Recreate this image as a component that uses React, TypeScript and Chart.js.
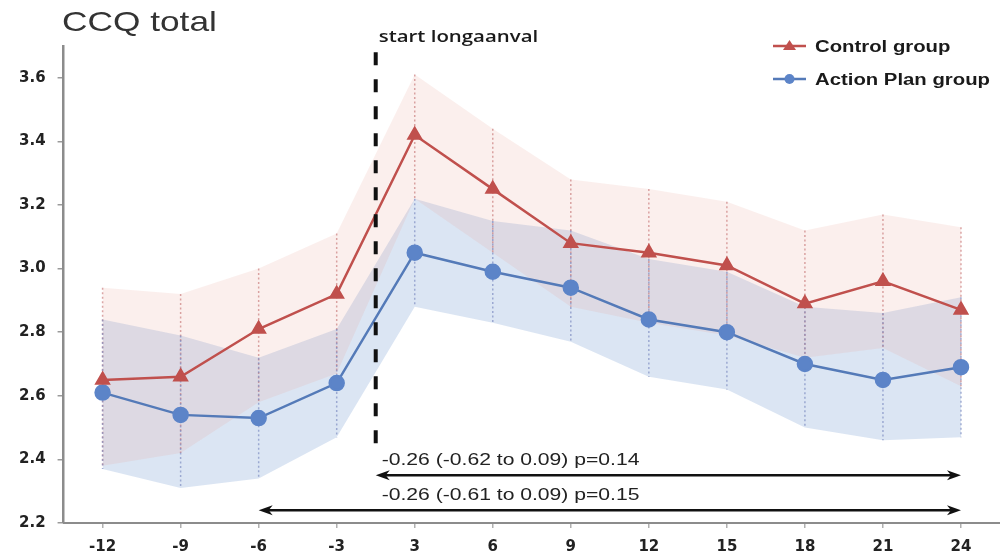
import { useEffect, useRef } from 'react';
import { Chart, registerables } from 'chart.js';

Chart.register(...registerables);

// ---- data ----
const months = ['-12', '-9', '-6', '-3', '3', '6', '9', '12', '15', '18', '21', '24'];
const controlMean = [2.65, 2.66, 2.81, 2.92, 3.42, 3.25, 3.08, 3.05, 3.01, 2.89, 2.96, 2.87];
const controlUpper = [2.94, 2.92, 3.0, 3.11, 3.61, 3.44, 3.28, 3.25, 3.21, 3.12, 3.17, 3.13];
const controlLower = [2.38, 2.42, 2.58, 2.67, 3.22, 3.05, 2.88, 2.83, 2.79, 2.72, 2.75, 2.63];
const actionMean = [2.61, 2.54, 2.53, 2.64, 3.05, 2.99, 2.94, 2.84, 2.8, 2.7, 2.65, 2.69];
const actionUpper = [2.84, 2.79, 2.72, 2.81, 3.22, 3.15, 3.12, 3.03, 2.99, 2.88, 2.86, 2.91];
const actionLower = [2.37, 2.31, 2.34, 2.47, 2.88, 2.83, 2.77, 2.66, 2.62, 2.5, 2.46, 2.47];
const yTicks = [2.2, 2.4, 2.6, 2.8, 3.0, 3.2, 3.4, 3.6];

const seriesNames = ['Control group', 'Action Plan group'];
const titleText = 'CCQ total';
const eventText = 'start longaanval';
const effectTexts = ['-0.26 (-0.62 to 0.09) p=0.14', '-0.26 (-0.61 to 0.09) p=0.15'];
// annotation anchors in data units
const eventTop = 3.68;
const eventBottom = 2.45;
const arrowYs = [2.35, 2.24];

const RED = 'rgb(192,80,77)';
const BLUE = 'rgb(84,122,184)';
const BLUE_PT = 'rgb(92,132,200)';

function drawText(
  ctx: CanvasRenderingContext2D,
  text: string,
  x: number,
  y: number,
  font: string,
  color: string,
  sx: number
) {
  ctx.save();
  ctx.font = font;
  ctx.fillStyle = color;
  ctx.textBaseline = 'alphabetic';
  ctx.textAlign = 'left';
  ctx.translate(x, y);
  ctx.scale(sx, 1);
  ctx.fillText(text, 0, 0);
  ctx.restore();
}

function arrowHead(ctx: CanvasRenderingContext2D, x: number, y: number, dir: number) {
  ctx.beginPath();
  ctx.moveTo(x, y);
  ctx.lineTo(x - dir * 14, y - 5);
  ctx.lineTo(x - dir * 10, y);
  ctx.lineTo(x - dir * 14, y + 5);
  ctx.closePath();
  ctx.fill();
}

function drawArrow(ctx: CanvasRenderingContext2D, x1: number, x2: number, y: number) {
  ctx.save();
  ctx.strokeStyle = '#111';
  ctx.fillStyle = '#111';
  ctx.lineWidth = 2.5;
  ctx.beginPath();
  ctx.moveTo(x1 + 6, y);
  ctx.lineTo(x2 - 6, y);
  ctx.stroke();
  arrowHead(ctx, x1, y, -1);
  arrowHead(ctx, x2, y, 1);
  ctx.restore();
}

const decorPlugin = {
  id: 'decor',
  beforeDatasetDraw(chart: any, args: any) {
    if (args.index !== 1) return;
    const { ctx } = chart;
    const xs = chart.scales.x;
    const ys = chart.scales.y;
    ctx.save();
    ctx.lineWidth = 1.5;
    ctx.setLineDash([2, 2.5]);
    for (let i = 0; i < months.length; i++) {
      const x = xs.getPixelForValue(i);
      ctx.strokeStyle = 'rgba(200,120,120,0.65)';
      ctx.beginPath();
      ctx.moveTo(x, ys.getPixelForValue(controlUpper[i]));
      ctx.lineTo(x, ys.getPixelForValue(controlLower[i]));
      ctx.stroke();
      ctx.strokeStyle = 'rgba(120,135,190,0.65)';
      ctx.beginPath();
      ctx.moveTo(x, ys.getPixelForValue(actionUpper[i]));
      ctx.lineTo(x, ys.getPixelForValue(actionLower[i]));
      ctx.stroke();
    }
    ctx.restore();
  },
  afterDatasetsDraw(chart: any) {
    const { ctx } = chart;
    const xs = chart.scales.x;
    const ys = chart.scales.y;
    const xEvent = (xs.getPixelForValue(3) + xs.getPixelForValue(4)) / 2;
    ctx.save();
    ctx.strokeStyle = '#111';
    ctx.lineWidth = 4;
    ctx.setLineDash([13, 14]);
    ctx.beginPath();
    ctx.moveTo(xEvent, ys.getPixelForValue(eventTop));
    ctx.lineTo(xEvent, ys.getPixelForValue(eventBottom));
    ctx.stroke();
    ctx.restore();
  },
  afterDraw(chart: any) {
    const { ctx } = chart;
    const xs = chart.scales.x;
    const ys = chart.scales.y;
    const xEvent = (xs.getPixelForValue(3) + xs.getPixelForValue(4)) / 2;
    const xLast = xs.getPixelForValue(months.length - 1);
    const xMinus6 = xs.getPixelForValue(2);

    // title
    drawText(ctx, titleText, 62, 31, 'normal 28px "Liberation Sans", Arial, sans-serif', '#333', 1.26);
    // event label
    drawText(ctx, eventText, xEvent + 3, 42, '600 17px "Open Sans", sans-serif', '#1a1a1a', 1.2);

    // arrows + effect texts
    const y1 = ys.getPixelForValue(arrowYs[0]);
    const y2 = ys.getPixelForValue(arrowYs[1]);
    drawArrow(ctx, xEvent, xLast, y1);
    drawArrow(ctx, xMinus6, xLast, y2);
    drawText(ctx, effectTexts[0], xEvent + 6, y1 - 10, 'normal 16px "Liberation Sans", Arial, sans-serif', '#222', 1.32);
    drawText(ctx, effectTexts[1], xEvent + 6, y2 - 10, 'normal 16px "Liberation Sans", Arial, sans-serif', '#222', 1.32);

    // legend
    const legendItems = [
      { label: seriesNames[0], color: RED, pt: RED, style: 'triangle', y: 46 },
      { label: seriesNames[1], color: BLUE, pt: BLUE_PT, style: 'circle', y: 79 },
    ];
    for (const it of legendItems) {
      ctx.save();
      ctx.strokeStyle = it.color;
      ctx.lineWidth = 2.5;
      ctx.beginPath();
      ctx.moveTo(773, it.y);
      ctx.lineTo(806, it.y);
      ctx.stroke();
      ctx.fillStyle = it.pt;
      ctx.beginPath();
      if (it.style === 'triangle') {
        ctx.moveTo(789.5, it.y - 6);
        ctx.lineTo(796, it.y + 4);
        ctx.lineTo(783, it.y + 4);
        ctx.closePath();
      } else {
        ctx.arc(789.5, it.y, 5, 0, Math.PI * 2);
      }
      ctx.fill();
      ctx.restore();
      drawText(ctx, it.label, 815, it.y + 6, 'bold 16px "Liberation Sans", Arial, sans-serif', '#1a1a1a', 1.27);
    }
  },
};

export default function App() {
  const ref = useRef<HTMLCanvasElement>(null);
  useEffect(() => {
    document.body.style.margin = '0';
    const tickFont = { family: '"DejaVu Sans", sans-serif', weight: 'bold' as const, size: 15 };
    const chart = new Chart(ref.current as HTMLCanvasElement, {
      type: 'line',
      data: {
        labels: months,
        datasets: [
          {
            label: seriesNames[0],
            data: controlMean,
            borderColor: RED,
            borderWidth: 2.5,
            pointStyle: 'triangle',
            pointRadius: 7,
            pointBackgroundColor: RED,
            pointBorderColor: RED,
            fill: false,
            tension: 0,
          },
          {
            label: seriesNames[1],
            data: actionMean,
            borderColor: BLUE,
            borderWidth: 2.5,
            pointStyle: 'circle',
            pointRadius: 7,
            pointBackgroundColor: BLUE_PT,
            pointBorderColor: BLUE_PT,
            fill: false,
            tension: 0,
          },
          {
            label: 'control upper',
            data: controlUpper,
            borderWidth: 0,
            pointRadius: 0,
            backgroundColor: 'rgba(232,160,150,0.17)',
            fill: '+1',
          },
          {
            label: 'control lower',
            data: controlLower,
            borderWidth: 0,
            pointRadius: 0,
            fill: false,
          },
          {
            label: 'action upper',
            data: actionUpper,
            borderWidth: 0,
            pointRadius: 0,
            backgroundColor: 'rgba(125,160,212,0.28)',
            fill: '+1',
          },
          {
            label: 'action lower',
            data: actionLower,
            borderWidth: 0,
            pointRadius: 0,
            fill: false,
          },
        ],
      },
      options: {
        responsive: false,
        animation: false,
        events: [],
        layout: { autoPadding: false, padding: { top: 46, left: 7, right: 0, bottom: -7 } },
        plugins: {
          legend: { display: false },
          tooltip: { enabled: false },
          title: { display: false },
        },
        scales: {
          x: {
            type: 'category',
            offset: true,
            afterFit: (scale: any) => {
              scale.paddingLeft = 0;
              scale.paddingRight = 0;
            },
            ticks: { font: tickFont, color: '#222', padding: 10 },
            grid: { offset: false, drawOnChartArea: false, drawTicks: true, tickLength: 5, color: '#b0b0b0', lineWidth: 1.5 },
            border: { display: true, color: '#8c8c8c', width: 2 },
          },
          y: {
            min: 2.2,
            max: 3.7,
            afterBuildTicks: (axis: any) => {
              axis.ticks = yTicks.map((v) => ({ value: v }));
            },
            ticks: {
              font: tickFont,
              color: '#222',
              padding: 12,
              callback: (v: any) => Number(v).toFixed(1),
            },
            grid: { drawOnChartArea: false, drawTicks: true, tickLength: 6, color: '#9a9a9a', lineWidth: 1.5 },
            border: { display: true, color: '#8c8c8c', width: 2.5 },
          },
        },
      },
      plugins: [decorPlugin],
    });
    return () => chart.destroy();
  }, []);
  return (
    <div style={{ position: 'absolute', left: 0, top: 0, width: 1000, height: 559 }}>
      <canvas ref={ref} width={1000} height={559} style={{ display: 'block', width: 1000, height: 559 }} />
    </div>
  );
}
